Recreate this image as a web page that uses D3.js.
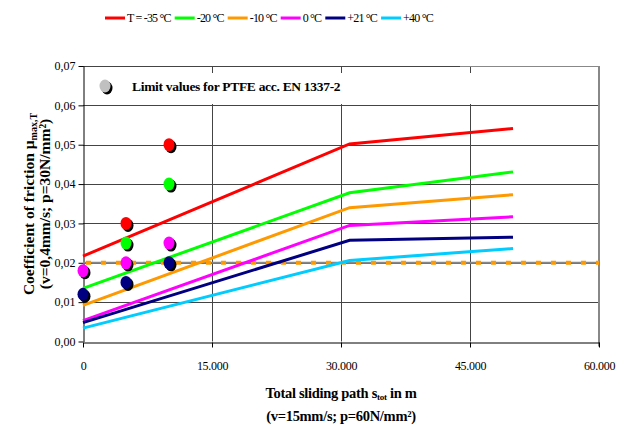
<!DOCTYPE html>
<html><head><meta charset="utf-8">
<script src="https://cdn.jsdelivr.net/npm/d3@7"></script>
<style>
body{margin:0;background:#fff;}
svg, svg text{font-family:"Liberation Serif","Times New Roman",Times,serif;}
</style></head>
<body>
<svg id="c" width="634" height="429"></svg>
<script>
// ---- data ----
const legendLabels = ["T = -35 °C", "-20 °C", "-10 °C", "0 °C", "+21 °C", "+40 °C"];
const seriesColors = ["#ff0000", "#00ff00", "#ff9900", "#ff00ff", "#000080", "#00ccff"];
const lineX = [0, 31000, 50000];
const lineM35 = [0.0217, 0.0502, 0.0541];
const lineM20 = [0.0135, 0.0378, 0.0431];
const lineM10 = [0.0092, 0.0340, 0.0373];
const line0   = [0.0053, 0.0295, 0.0317];
const lineP21 = [0.0048, 0.0257, 0.0265];
const lineP40 = [0.0034, 0.0206, 0.0236];
const dotX = [0, 5000, 10000];
const dotsM35 = [null, 0.030, 0.050];
const dotsM20 = [null, 0.025, 0.040];
const dots0   = [0.018, 0.020, 0.025];
const dotsP21 = [0.012, 0.015, 0.020];
const limitValue = 0.02;
const xTicks = [0, 15000, 30000, 45000, 60000];
const xTickLabels = ["0", "15.000", "30.000", "45.000", "60.000"];
const yTicks = [0, 0.01, 0.02, 0.03, 0.04, 0.05, 0.06, 0.07];
const yTickLabels = ["0,00", "0,01", "0,02", "0,03", "0,04", "0,05", "0,06", "0,07"];

const FONT = "'Liberation Serif','Times New Roman',Times,serif";
const lines = [lineM35, lineM20, lineM10, line0, lineP21, lineP40];
const dotSets = [
  {vals: dotsM35, color: seriesColors[0]},
  {vals: dotsM20, color: seriesColors[1]},
  {vals: dots0,   color: seriesColors[3]},
  {vals: dotsP21, color: seriesColors[4]}
];

// ---- layout ----
const L = 83, R = 599, T = 66, B = 341.5;
const svg = d3.select("#c").attr("font-family", FONT);
const x = d3.scaleLinear().domain([0, 60000]).range([L, R]);
const y = d3.scaleLinear().domain([0, 0.07]).range([B, T]);

// gridlines
const g = svg.append("g");
g.selectAll(".hg").data(yTicks.slice(1)).join("line")
  .attr("x1", L).attr("x2", R).attr("y1", d => Math.round(y(d)) + 0.5).attr("y2", d => Math.round(y(d)) + 0.5)
  .attr("stroke", "#444").attr("stroke-width", 1);
g.selectAll(".vg").data(xTicks.slice(1, -1)).join("line")
  .attr("y1", T).attr("y2", B).attr("x1", d => Math.round(x(d)) + 0.5).attr("x2", d => Math.round(x(d)) + 0.5)
  .attr("stroke", "#444").attr("stroke-width", 1);
// right border
svg.append("line").attr("x1", R).attr("x2", R).attr("y1", T).attr("y2", B + 5)
  .attr("stroke", "#888").attr("stroke-width", 2);
svg.append("line").attr("x1", 460).attr("x2", R).attr("y1", T + 0.5).attr("y2", T + 0.5)
  .attr("stroke", "#888").attr("stroke-width", 1);

// legend box (covers vertical gridlines)
svg.append("rect").attr("x", 86).attr("y", 73).attr("width", 500).attr("height", 31).attr("fill", "#fff");

// axes
const xAxis = d3.axisBottom(x).tickValues(xTicks).tickFormat((d, i) => xTickLabels[i]).tickSize(5).tickSizeOuter(0);
const xa = svg.append("g").attr("transform", `translate(0,${Math.round(B) + 0.5})`).call(xAxis)
  .attr("font-family", FONT).attr("font-size", 12);
xa.select(".domain").attr("stroke", "#000");
xa.selectAll(".tick line").attr("stroke", "#000");
xa.selectAll("text").attr("fill", "#000").attr("dy", "1.6em").attr("letter-spacing", "-0.3");

const yAxis = d3.axisLeft(y).tickValues(yTicks).tickFormat((d, i) => yTickLabels[i]).tickSize(5).tickSizeOuter(0);
const ya = svg.append("g").attr("transform", `translate(${L + 0.5},0)`).call(yAxis)
  .attr("font-family", FONT).attr("font-size", 12);
ya.select(".domain").attr("stroke", "#000");
ya.selectAll(".tick line").attr("stroke", "#000");
ya.selectAll("text").attr("fill", "#000").attr("x", -8);

// limit line
svg.append("line").attr("x1", x(0)).attr("x2", x(60000)).attr("y1", y(limitValue)).attr("y2", y(limitValue))
  .attr("stroke", "#888").attr("stroke-width", 2);
svg.append("line").attr("x1", x(0) + 3).attr("x2", x(60000)).attr("y1", y(limitValue)).attr("y2", y(limitValue))
  .attr("stroke", "#ff9900").attr("stroke-width", 4).attr("stroke-dasharray", "5,10");

// series lines
const lineGen = d3.line().x((d, i) => x(lineX[i])).y(d => y(d));
svg.selectAll(".sl").data(lines).join("path")
  .attr("d", d => lineGen(d)).attr("fill", "none")
  .attr("stroke", (d, i) => seriesColors[i]).attr("stroke-width", 3);

// dots
dotSets.forEach(s => {
  const pts = s.vals.map((v, i) => ({x: dotX[i], v})).filter(p => p.v != null);
  const gg = svg.append("g");
  gg.selectAll(".sh").data(pts).join("ellipse")
    .attr("cx", p => x(p.x) + 2).attr("cy", p => y(p.v) + 2).attr("rx", 5.5).attr("ry", 6.5).attr("fill", "#000");
  gg.selectAll(".dt").data(pts).join("ellipse")
    .attr("cx", p => x(p.x)).attr("cy", p => y(p.v)).attr("rx", 5.5).attr("ry", 6.5).attr("fill", s.color);
});

// limit legend
svg.append("ellipse").attr("cx", 107).attr("cy", 88).attr("rx", 5.5).attr("ry", 6.5).attr("fill", "#000");
svg.append("ellipse").attr("cx", 105).attr("cy", 86).attr("rx", 5.5).attr("ry", 6.5).attr("fill", "#c0c0c0");
svg.append("text").attr("x", 132).attr("y", 91).attr("font-size", 13.5).attr("font-weight", "bold")
  .attr("font-family", FONT).attr("letter-spacing", "-0.3").text("Limit values for PTFE acc. EN 1337-2");

// top legend
let lx = 105;
const lg = svg.append("g");
legendLabels.forEach((lab, i) => {
  lg.append("line").attr("x1", lx).attr("x2", lx + 20).attr("y1", 18).attr("y2", 18)
    .attr("stroke", seriesColors[i]).attr("stroke-width", 3);
  const t = lg.append("text").attr("x", lx + 22).attr("y", 22).attr("font-size", 12)
    .attr("font-family", FONT).attr("letter-spacing", "-0.8").text(lab);
  lx = lx + 22 + t.node().getComputedTextLength() + 4;
});

// y title
const yt = svg.append("text").attr("transform", "translate(34,204) rotate(-90)")
  .attr("text-anchor", "middle").attr("font-size", 15.5).attr("font-weight", "bold").attr("font-family", FONT);
yt.append("tspan").text("Coefficient of friction μ");
yt.append("tspan").attr("font-size", 10).attr("dy", 3).text("max,T");
svg.append("text").attr("transform", "translate(50,204) rotate(-90)")
  .attr("text-anchor", "middle").attr("font-size", 15.5).attr("font-weight", "bold").attr("font-family", FONT)
  .text("(v=0,4mm/s; p=30N/mm²)");

// x title
const xt = svg.append("text").attr("x", 341).attr("y", 398).attr("text-anchor", "middle")
  .attr("font-size", 14.5).attr("font-weight", "bold").attr("letter-spacing", "-0.3").attr("font-family", FONT);
xt.append("tspan").text("Total sliding path s");
xt.append("tspan").attr("font-size", 9).attr("dy", 2).text("tot");
xt.append("tspan").attr("dy", -2).text(" in m");
svg.append("text").attr("x", 341).attr("y", 421).attr("text-anchor", "middle")
  .attr("font-size", 14.5).attr("font-weight", "bold").attr("letter-spacing", "-0.3").attr("font-family", FONT)
  .text("(v=15mm/s; p=60N/mm²)");
</script>
</body></html>
